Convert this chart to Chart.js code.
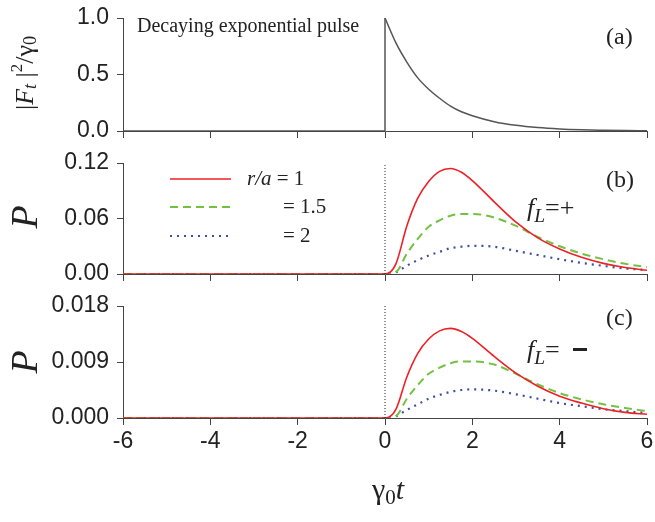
<!DOCTYPE html>
<html lang="en">
<head>
<meta charset="UTF-8"/>
<title>Decaying exponential pulse</title>
<script src="https://cdn.jsdelivr.net/npm/chart.js@4.4.0/dist/chart.umd.min.js"></script>
<style>
body { margin: 0; background: #fff; }
#wrap { position: relative; width: 655px; height: 522px; }
canvas { position: absolute; left: 0; }
</style>
</head>
<body>
<div id="wrap">
  <canvas id="chartA" width="655" height="150" style="top:0px"></canvas>
  <canvas id="chartB" width="655" height="150" style="top:145px"></canvas>
  <canvas id="chartC" width="655" height="232" style="top:290px"></canvas>
</div>

<script>
// time axis (gamma0 t) shared by panels b and c
const tVals  = [-6, 0, 0.25, 0.5, 0.75, 1, 1.25, 1.5, 1.75, 2, 2.5, 3, 3.5, 4, 4.5, 5, 5.5, 6];

// panel (b)  f_L = +
const redB   = [0, 0, 0.011, 0.052, 0.082, 0.100, 0.111, 0.114, 0.110, 0.101, 0.078, 0.056, 0.039, 0.027, 0.018, 0.0115, 0.007, 0.004];
const greenB = [0, 0, 0.002, 0.022, 0.038, 0.051, 0.058, 0.063, 0.065, 0.065, 0.061, 0.052, 0.040, 0.030, 0.022, 0.016, 0.011, 0.0075];
const blueB  = [0, 0, 0.002, 0.009, 0.015, 0.020, 0.024, 0.028, 0.0295, 0.0305, 0.0295, 0.025, 0.0205, 0.016, 0.012, 0.0088, 0.006, 0.0043];

// panel (c)  f_L = -
const redC   = [0, 0, 0.0014, 0.0066, 0.0104, 0.0127, 0.0140, 0.0144, 0.0139, 0.0128, 0.0099, 0.0072, 0.0051, 0.0035, 0.0024, 0.0015, 0.0009, 0.0006];
const greenC = [0, 0, 0.0003, 0.0031, 0.0053, 0.0071, 0.0081, 0.0088, 0.0091, 0.0091, 0.0086, 0.0071, 0.0054, 0.0040, 0.0030, 0.0022, 0.0016, 0.0011];
const blueC  = [0, 0, 0.0003, 0.0013, 0.0022, 0.0031, 0.0037, 0.0042, 0.0045, 0.0046, 0.0044, 0.0038, 0.0031, 0.0024, 0.0019, 0.0014, 0.0011, 0.0008];

// panel (a) pulse |F_t|^2/gamma0, zero before t = 0
const pulseT = [0, 0.25, 0.5, 0.75, 1, 1.25, 1.5, 1.75, 2, 2.5, 3, 3.5, 4, 4.5, 5, 5.5, 6];
const pulseF = [1, 0.78, 0.61, 0.47, 0.37, 0.29, 0.22, 0.17, 0.135, 0.082, 0.05, 0.03, 0.018, 0.011, 0.007, 0.004, 0.0025];

// ticks
const xTicks  = [-6, -4, -2, 0, 2, 4, 6];
const yTicksA = [0, 0.5, 1.0];
const yTicksB = [0, 0.06, 0.12];
const yTicksC = [0, 0.009, 0.018];

const legendLabels = ['r/a', '= 1', '= 1.5', '= 2'];

const RED = '#ee2024', GREEN = '#74c043', BLUE = '#3c4ea0', AXIS = '#444';
const SERIF = '"Liberation Serif", "Times New Roman", serif';
const SANS = '"Liberation Sans", Arial, sans-serif';

const pts = (xs, ys) => xs.map((x, i) => ({ x: x, y: ys[i] }));

// text made of pieces: [text, style, y shift, size factor]
function richWidth(ctx, parts, size) {
  let w = 0;
  parts.forEach(p => {
    ctx.font = (p[1] || '') + ' ' + size * (p[3] || 1) + 'px ' + SERIF;
    w += ctx.measureText(p[0]).width;
  });
  return w;
}
function richText(ctx, parts, x, y, size) {
  let cx = x;
  parts.forEach(p => {
    ctx.font = (p[1] || '') + ' ' + size * (p[3] || 1) + 'px ' + SERIF;
    ctx.fillText(p[0], cx, y + (p[2] || 0));
    cx += ctx.measureText(p[0]).width;
  });
}
function rotatedText(ctx, parts, cx, cy, size) {
  ctx.save();
  ctx.translate(cx, cy);
  ctx.rotate(-Math.PI / 2);
  ctx.textBaseline = 'middle';
  const w = richWidth(ctx, parts, size);
  richText(ctx, parts, -w / 2, 0, size);
  ctx.restore();
}

function curve(data, color, dash, width) {
  return {
    data: data, borderColor: color, borderWidth: width, borderDash: dash,
    pointRadius: 0, fill: false, cubicInterpolationMode: 'monotone'
  };
}

function baseOptions(yTicks, fmt, showX, xHeight, padTop) {
  return {
    responsive: false,
    animation: false,
    layout: { padding: { top: padTop, right: 8, left: 0, bottom: 0 } },
    plugins: { legend: { display: false }, tooltip: { enabled: false } },
    scales: {
      x: {
        type: 'linear', min: -6, max: 6,
        afterBuildTicks: s => { s.ticks = xTicks.map(v => ({ value: v })); },
        afterFit: s => { s.height = xHeight; s.paddingLeft = 0; s.paddingRight = 0; },
        grid: { drawOnChartArea: false, drawTicks: true, tickLength: 7, color: AXIS },
        border: { color: AXIS, width: 1 },
        ticks: { display: showX, padding: 3, color: '#222', font: { family: SANS, size: 23 } }
      },
      y: {
        min: yTicks[0], max: yTicks[yTicks.length - 1],
        afterBuildTicks: s => { s.ticks = yTicks.map(v => ({ value: v })); },
        // fixed axis width and no extra room for the end labels
        afterFit: s => { s.width = 123; s.paddingTop = 0; s.paddingBottom = 0; },
        grid: { drawOnChartArea: false, drawTicks: true, tickLength: 6, color: AXIS },
        border: { color: AXIS, width: 1 },
        ticks: {
          padding: 8, color: '#222', font: { family: SANS, size: 23 },
          callback: v => v.toFixed(fmt)
        }
      }
    }
  };
}

// ---------- panel (a) ----------
new Chart(document.getElementById('chartA'), {
  type: 'line',
  data: {
    datasets: [
      {
        data: [{ x: -6, y: 0 }, { x: pulseT[0], y: 0 }, { x: pulseT[0], y: pulseF[0] }],
        borderColor: '#555', borderWidth: 1.5, pointRadius: 0, tension: 0, fill: false
      },
      curve(pts(pulseT, pulseF), '#555', [], 1.5)
    ]
  },
  options: baseOptions(yTicksA, 1, false, 19, 18),
  plugins: [{
    id: 'textA',
    afterDraw(chart) {
      const ctx = chart.ctx;
      ctx.save();
      ctx.fillStyle = '#222';
      ctx.textBaseline = 'middle';
      ctx.font = '20px ' + SERIF;
      ctx.fillText('Decaying exponential pulse', 137, 27);
      ctx.font = '24px ' + SERIF;
      ctx.fillText('(a)', 606, 38);
      rotatedText(ctx, [['|'], ['F', 'italic'], ['t', 'italic', 5, 0.7], [' |'], ['2', '', -8, 0.65], ['/'], ['γ'], ['0', '', 5, 0.7]], 26, 73, 26);
      ctx.restore();
    }
  }]
});

// ---------- panels (b) and (c) ----------
function panel(id, top, reds, greens, blues, yTicks, fmt, last, padTop, label, labelY, pY, fY, sign) {
  const yMax = yTicks[yTicks.length - 1];
  new Chart(document.getElementById(id), {
    type: 'line',
    data: {
      datasets: [
        {
          data: [{ x: 0, y: 0 }, { x: 0, y: yMax }],
          borderColor: '#222', borderWidth: 1, borderDash: [1, 2], pointRadius: 0, tension: 0
        },
        curve(pts(tVals, reds), RED, [], 1.6),
        curve(pts(tVals, greens), GREEN, [8, 5], 2),
        curve(pts(tVals, blues), BLUE, [2, 5], 2.2)
      ]
    },
    options: baseOptions(yTicks, fmt, last, last ? 104 : 21, padTop),
    plugins: [{
      id: 'text' + id,
      afterDraw(chart) {
        const ctx = chart.ctx;
        ctx.save();
        ctx.fillStyle = '#222';
        ctx.textBaseline = 'middle';
        ctx.font = '24px ' + SERIF;
        ctx.fillText(label, 606, labelY - top);
        rotatedText(ctx, [['P', 'italic']], 27, pY - top, 38);

        // f_L annotation
        ctx.textBaseline = 'alphabetic';
        richText(ctx, [['f', 'italic'], ['L', 'italic', 6, 0.75], ['=' + (sign === '+' ? '+' : '')]], 527, fY - top, 26);
        if (sign !== '+') ctx.fillRect(573, fY - top - 10, 14, 3);

        if (!last) {
          // legend
          const rows = [[RED, [], 1.6, 179], [GREEN, [8, 5], 2, 207], [BLUE, [2, 5], 2.2, 236]];
          rows.forEach(r => {
            ctx.beginPath();
            ctx.strokeStyle = r[0];
            ctx.lineWidth = r[2];
            ctx.setLineDash(r[1]);
            ctx.moveTo(170, r[3] - top);
            ctx.lineTo(231, r[3] - top);
            ctx.stroke();
          });
          ctx.setLineDash([]);
          ctx.textBaseline = 'middle';
          richText(ctx, [[legendLabels[0], 'italic'], [' ' + legendLabels[1]]], 247, 179 - top, 21);
          richText(ctx, [[legendLabels[2]]], 283, 207 - top, 21);
          richText(ctx, [[legendLabels[3]]], 283, 236 - top, 21);
        } else {
          // x axis title gamma_0 t
          ctx.textBaseline = 'middle';
          const parts = [['γ'], ['0', '', 7, 0.7], ['t', 'italic']];
          const w = richWidth(ctx, parts, 30);
          richText(ctx, parts, 388 - w / 2, 491 - top, 30);
        }
        ctx.restore();
      }
    }]
  });
}

panel('chartB', 145, redB, greenB, blueB, yTicksB, 2, false, 18, '(b)', 181, 217, 216, '+');
panel('chartC', 290, redC, greenC, blueC, yTicksC, 3, true, 16, '(c)', 319, 362, 358, '-');
</script>
</body>
</html>
